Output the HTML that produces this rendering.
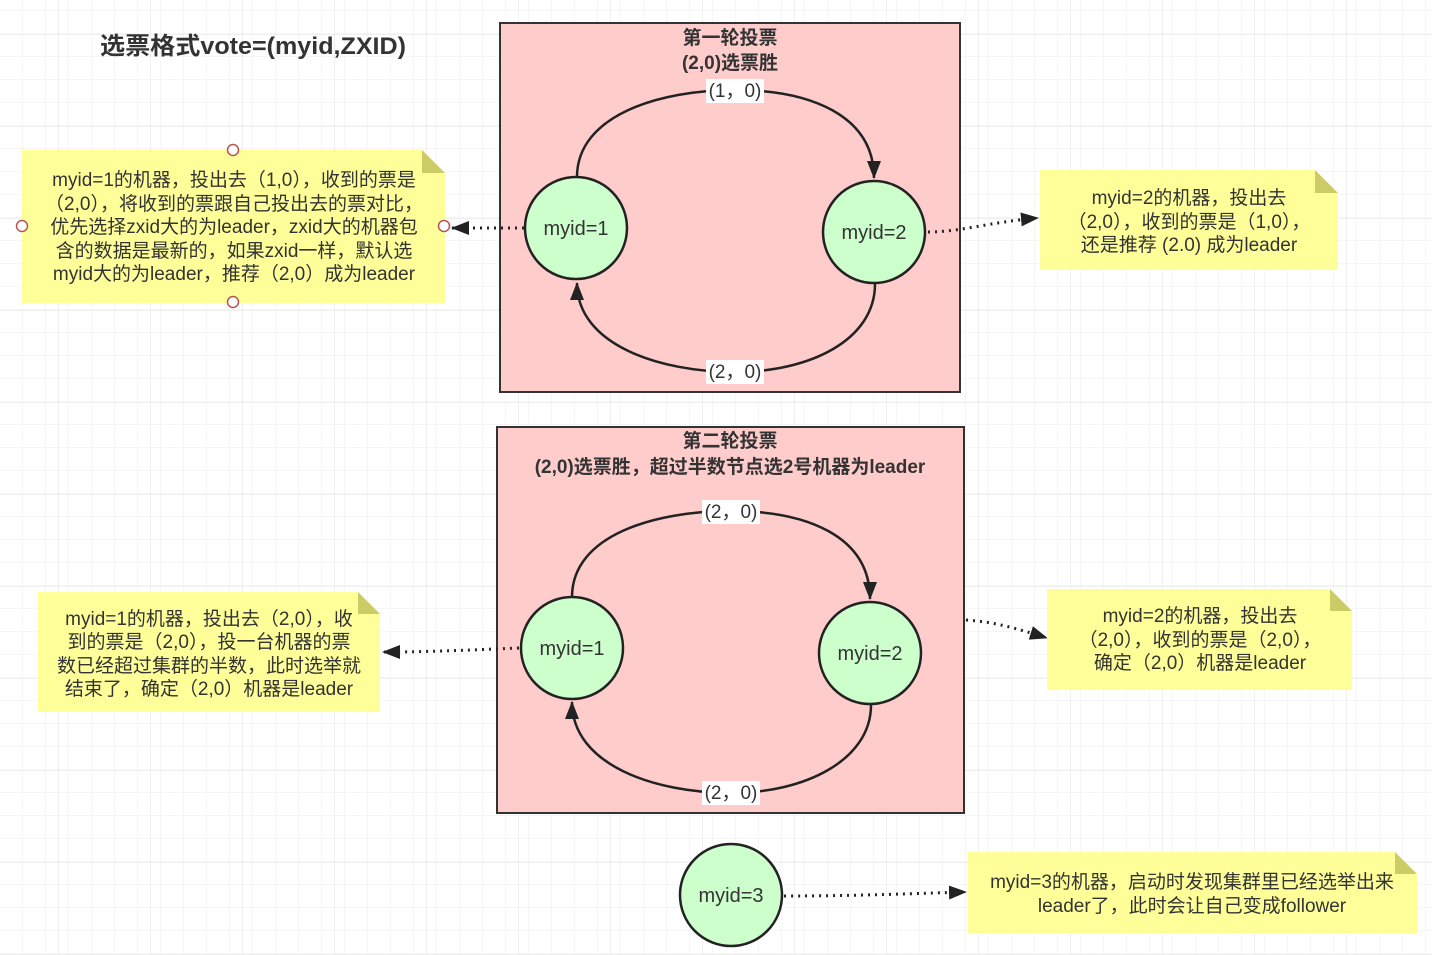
<!DOCTYPE html>
<html><head><meta charset="utf-8"><style>
html,body{margin:0;padding:0;background:#fff}
svg{display:block}
text{font-family:"Liberation Sans","Noto Sans CJK SC",sans-serif;fill:#333}
</style></head><body>
<svg width="1432" height="955" viewBox="0 0 1432 955" xmlns="http://www.w3.org/2000/svg">
<defs>
<pattern id="g" width="23" height="23" patternUnits="userSpaceOnUse" x="0" y="11">
<path d="M23 0V23M0 23H23" fill="none" stroke="#eeeeee" stroke-width="1"/>
</pattern>
<pattern id="G" width="92" height="92" patternUnits="userSpaceOnUse" x="58" y="34">
<path d="M0 0V92M0 0H92" fill="none" stroke="#e2e2e2" stroke-width="1"/>
</pattern>
<marker id="b" markerWidth="18" markerHeight="14" refX="17" refY="7" orient="auto" markerUnits="userSpaceOnUse" viewBox="0 0 18 14">
<path d="M0 0L18 7L0 14Z" fill="#222"/>
</marker>
</defs>
<rect width="1432" height="955" fill="url(#g)"/>
<rect width="1432" height="955" fill="url(#G)"/>

<text x="253" y="54" font-size="24" font-weight="bold" text-anchor="middle" textLength="306" lengthAdjust="spacingAndGlyphs">选票格式vote=(myid,ZXID)</text>

<!-- note 1 -->
<path d="M22 150H422L445 173V303H22Z" fill="#ffff99"/>
<path d="M422 150V173H445Z" fill="#cccc66"/>
<g font-size="19" text-anchor="middle">
<text x="234" y="186">myid=1的机器，投出去（1,0），收到的票是</text>
<text x="234" y="210">（2,0），将收到的票跟自己投出去的票对比，</text>
<text x="234" y="233">优先选择zxid大的为leader，zxid大的机器包</text>
<text x="234" y="257">含的数据是最新的，如果zxid一样，默认选</text>
<text x="234" y="280">myid大的为leader，推荐（2,0）成为leader</text>
</g>
<g fill="#fff" stroke="#b85450" stroke-width="1.5">
<circle cx="233" cy="150" r="5.5"/><circle cx="233" cy="302" r="5.5"/>
<circle cx="22" cy="226" r="5.5"/><circle cx="444" cy="226" r="5.5"/>
</g>

<!-- box 1 -->
<rect x="500" y="23" width="460" height="369" fill="#ffcccc" stroke="#333" stroke-width="2"/>
<text x="730" y="44" font-size="19" font-weight="bold" text-anchor="middle">第一轮投票</text>
<text x="730" y="69" font-size="19" font-weight="bold" text-anchor="middle">(2,0)选票胜</text>
<g fill="none" stroke="#222" stroke-width="2.5">
<path d="M577 177C577 115 660 90 735 90C810 90 874 115 874 178" marker-end="url(#b)"/>
<path d="M875 284C875 340 810 372 735 372C660 372 577 345 577 283" marker-end="url(#b)"/>
</g>
<rect x="706" y="79" width="58" height="24" fill="#fff"/>
<text x="735" y="97" font-size="19" text-anchor="middle">(1，0)</text>
<rect x="706" y="360" width="58" height="24" fill="#fff"/>
<text x="735" y="378" font-size="19" text-anchor="middle">(2，0)</text>
<circle cx="576" cy="228" r="51" fill="#ccffcc" stroke="#222" stroke-width="2.5"/>
<circle cx="874" cy="232" r="51" fill="#ccffcc" stroke="#222" stroke-width="2.5"/>
<text x="576" y="235" font-size="20" text-anchor="middle">myid=1</text>
<text x="874" y="239" font-size="20" text-anchor="middle">myid=2</text>
<g fill="none" stroke="#222" stroke-width="3" stroke-dasharray="2 5">
<path d="M524 228H452" marker-end="url(#b)"/>
<path d="M928 232C960 232 990 222 1038 218" marker-end="url(#b)"/>
</g>

<!-- note 2 -->
<path d="M1040 170H1315L1338 193V270H1040Z" fill="#ffff99"/>
<path d="M1315 170V193H1338Z" fill="#cccc66"/>
<g font-size="19" text-anchor="middle">
<text x="1189" y="204">myid=2的机器，投出去</text>
<text x="1189" y="228">（2,0），收到的票是（1,0），</text>
<text x="1189" y="251">还是推荐 (2.0) 成为leader</text>
</g>

<!-- box 2 -->
<rect x="497" y="427" width="467" height="386" fill="#ffcccc" stroke="#333" stroke-width="2"/>
<text x="730" y="447" font-size="19" font-weight="bold" text-anchor="middle">第二轮投票</text>
<text x="730" y="473" font-size="19" font-weight="bold" text-anchor="middle">(2,0)选票胜，超过半数节点选2号机器为leader</text>
<g fill="none" stroke="#222" stroke-width="2.5">
<path d="M572 597C572 535 655 511 731 511C805 511 870 535 870 599" marker-end="url(#b)"/>
<path d="M871 705C871 760 805 793 731 793C655 793 572 765 572 702" marker-end="url(#b)"/>
</g>
<rect x="702" y="500" width="58" height="24" fill="#fff"/>
<text x="731" y="518" font-size="19" text-anchor="middle">(2，0)</text>
<rect x="702" y="781" width="58" height="24" fill="#fff"/>
<text x="731" y="799" font-size="19" text-anchor="middle">(2，0)</text>
<circle cx="572" cy="648" r="51" fill="#ccffcc" stroke="#222" stroke-width="2.5"/>
<circle cx="870" cy="653" r="51" fill="#ccffcc" stroke="#222" stroke-width="2.5"/>
<text x="572" y="655" font-size="20" text-anchor="middle">myid=1</text>
<text x="870" y="660" font-size="20" text-anchor="middle">myid=2</text>
<g fill="none" stroke="#222" stroke-width="3" stroke-dasharray="2 5">
<path d="M519 648C470 650 430 652 383 652" marker-end="url(#b)"/>
<path d="M966 620C995 622 1015 628 1047 638" marker-end="url(#b)"/>
<path d="M784 896C850 896 900 894 966 892" marker-end="url(#b)"/>
</g>

<!-- note 3 -->
<path d="M38 592H358L380 614V712H38Z" fill="#ffff99"/>
<path d="M358 592V614H380Z" fill="#cccc66"/>
<g font-size="19" text-anchor="middle">
<text x="209" y="625">myid=1的机器，投出去（2,0），收</text>
<text x="209" y="648">到的票是（2,0），投一台机器的票</text>
<text x="209" y="672">数已经超过集群的半数，此时选举就</text>
<text x="209" y="695">结束了，确定（2,0）机器是leader</text>
</g>

<!-- note 4 -->
<path d="M1047 589H1330L1352 611V690H1047Z" fill="#ffff99"/>
<path d="M1330 589V611H1352Z" fill="#cccc66"/>
<g font-size="19" text-anchor="middle">
<text x="1200" y="622">myid=2的机器，投出去</text>
<text x="1200" y="646">（2,0），收到的票是（2,0），</text>
<text x="1200" y="669">确定（2,0）机器是leader</text>
</g>

<!-- circle 3 -->
<circle cx="731" cy="895" r="51" fill="#ccffcc" stroke="#222" stroke-width="2.5"/>
<text x="731" y="902" font-size="20" text-anchor="middle">myid=3</text>

<!-- note 5 -->
<path d="M968 852H1395L1417 874V933H968Z" fill="#ffff99"/>
<path d="M1395 852V874H1417Z" fill="#cccc66"/>
<g font-size="19" text-anchor="middle">
<text x="1192" y="888">myid=3的机器，启动时发现集群里已经选举出来</text>
<text x="1192" y="912">leader了，此时会让自己变成follower</text>
</g>
</svg>
</body></html>
